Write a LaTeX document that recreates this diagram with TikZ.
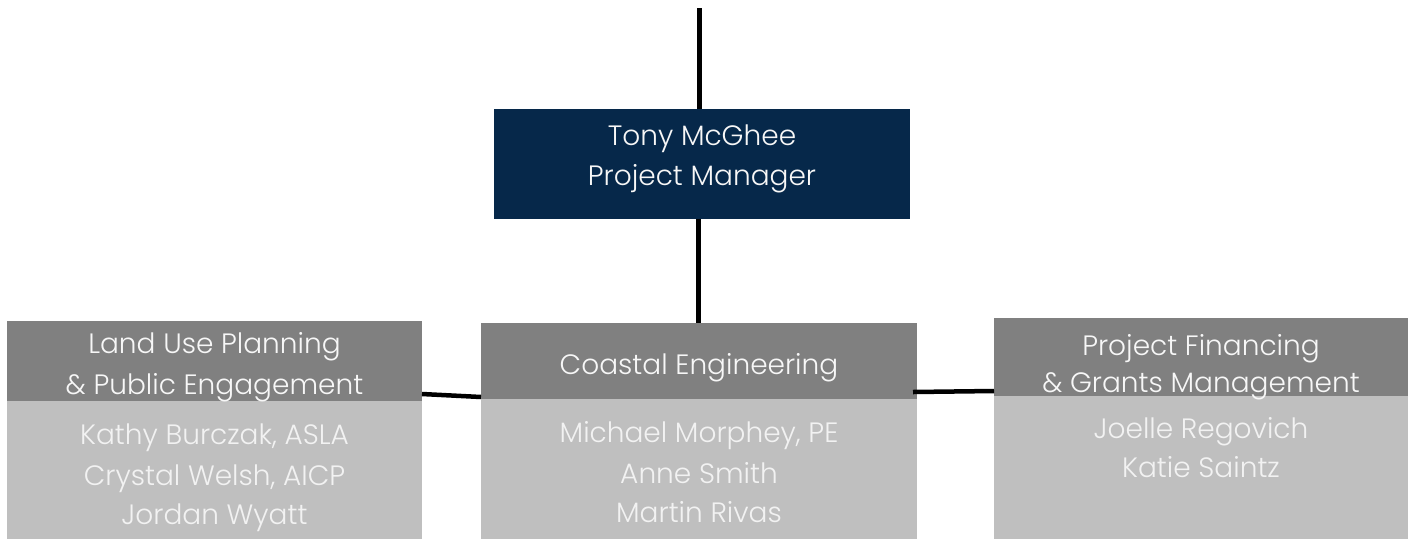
\documentclass[tikz,border=0pt]{standalone}
\usepackage{fontspec}
\setmainfont{Poppins Light}
\usetikzlibrary{calc}
\definecolor{navy}{HTML}{06284A}
\definecolor{hdrgray}{HTML}{808080}
\definecolor{bodygray}{HTML}{BFBFBF}
\definecolor{txtwhite}{HTML}{F7F7F7}
\definecolor{bodytxt}{HTML}{F2F2F2}
\begin{document}
\begin{tikzpicture}[x=1pt,y=-1pt,
  box/.style={rectangle,inner sep=0pt,outer sep=0pt,draw=none,anchor=north west},
  hdr/.style={box,fill=hdrgray},
  bdy/.style={box,fill=bodygray},
  boss/.style={box,fill=navy},
  ttext/.style={anchor=base,inner sep=0pt,text=txtwhite,font=\fontsize{28}{32}\selectfont},
  btext/.style={anchor=base,inner sep=0pt,text=bodytxt,font=\fontsize{28}{32}\selectfont},
  link/.style={draw=black,line width=4.5pt}]
\useasboundingbox[fill=white] (0,0) rectangle (1408,539);
% boxes
\node[boss,minimum width=416pt,minimum height=110pt] (top) at (494,109) {};
\node[hdr,minimum width=415pt,minimum height=80pt] (lh) at (7,321) {};
\node[bdy,minimum width=415pt,minimum height=138pt] (lb) at (7,401) {};
\node[hdr,minimum width=436pt,minimum height=76pt] (ch) at (481,323) {};
\node[bdy,minimum width=436pt,minimum height=140pt] (cb) at (481,399) {};
\node[hdr,minimum width=414pt,minimum height=78pt] (rh) at (994,318) {};
\node[bdy,minimum width=414pt,minimum height=143pt] (rb) at (994,396) {};
% connectors
\coordinate (start) at (699.5,8);
\draw[link] (start) -- (start |- top.north);
\draw[link] ($(top.south)+(-3.5,0)$) -- ($(ch.north)+(-0.5,0)$);
\draw[link] ($(lh.north east)+(0,73)$) -- ($(ch.north west)+(0,74)$);
\draw[link] ($(ch.north east)+(-4,69)$) -- ($(rh.north west)+(0,73)$);
% texts
\node[ttext] (t1) at (702,145) {Tony McGhee};
\node[ttext] (t2) at (702,185) {Project Manager};
\node[ttext] (l1) at (214.5,353) {Land Use Planning};
\node[ttext] (l2) at (214.5,394) {\& Public Engagement};
\node[btext] (l3) at (214.5,444) {Kathy Burczak, ASLA};
\node[btext] (l4) at (214.5,485) {Crystal Welsh, AICP};
\node[btext] (l5) at (214.5,524) {Jordan Wyatt};
\node[ttext] (c1) at (699,374) {Coastal Engineering};
\node[btext] (c2) at (699,442) {Michael Morphey, PE};
\node[btext] (c3) at (699,483) {Anne Smith};
\node[btext] (c4) at (699,522) {Martin Rivas};
\node[ttext] (r1) at (1201,355) {Project Financing};
\node[ttext] (r2) at (1201,392) {\& Grants Management};
\node[btext] (r3) at (1201,438) {Joelle Regovich};
\node[btext] (r4) at (1201,477) {Katie Saintz};
\end{tikzpicture}
\end{document}
